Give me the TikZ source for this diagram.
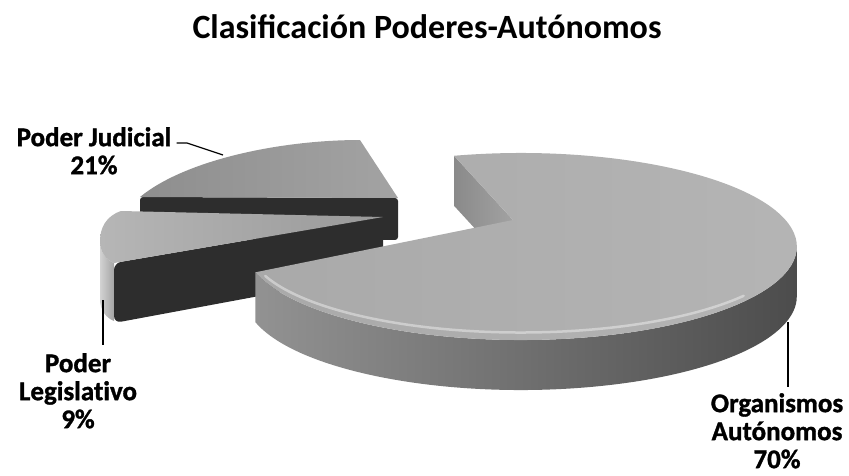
\documentclass[tikz,border=0pt]{standalone}
\usepackage{fontspec}
\setmainfont{Carlito}
\newfontfamily\labelfont[Ligatures=NoCommon,BoldFeatures={FakeBold=1.2}]{Carlito}
\usetikzlibrary{calc}

\definecolor{facedark}{HTML}{2D2D2D}
\definecolor{maintopA}{HTML}{A9A9A9}
\definecolor{maintopB}{HTML}{B5B5B5}
\definecolor{rimA}{HTML}{929292}
\definecolor{rimB}{HTML}{787878}
\definecolor{rimC}{HTML}{4C4C4C}
\definecolor{cutA}{HTML}{8A8A8A}
\definecolor{cutB}{HTML}{A2A2A2}
\definecolor{judtopA}{HTML}{8E8E8E}
\definecolor{judtopB}{HTML}{A3A3A3}
\definecolor{legtopA}{HTML}{B6B6B6}
\definecolor{legtopB}{HTML}{999999}
\definecolor{legrimA}{HTML}{D2D2D2}
\definecolor{legrimB}{HTML}{A4A4A4}

\begin{document}
\begin{tikzpicture}[x=1pt,y=-1pt]

\tikzstyle{charttitle} = [font=\fontsize{34}{40}\selectfont\bfseries,anchor=base,inner sep=0pt]
\tikzstyle{slicelabel} = [font=\labelfont\fontsize{27}{28}\selectfont\bfseries,align=center,inner sep=0pt,anchor=north]
\tikzstyle{leader} = [draw=black,line width=1.2pt]
\tikzstyle{darkside} = [fill=facedark,rounded corners=3pt]
\tikzstyle{rimlight} = [white,opacity=0.4,line width=2.5pt,line cap=round]

\useasboundingbox (0,0) rectangle (849,475);

% title
\node[charttitle] (title) at (427,38) {Clasificación Poderes-Autónomos};

% Poder Judicial slice
\coordinate (japex) at (398,198);
\coordinate (jK) at (140,197);
\coordinate (jT) at (360,140);
\path[darkside] (jK) -- (japex) -- ++(0,42) -- ($(jK)+(0,42)$) -- cycle;
\path[left color=judtopA,right color=judtopB] (japex) -- (jK) .. controls (185,160) and (280,140) .. (jT) -- cycle;

% Poder Legislativo slice
\coordinate (lapex) at (383,217);
\coordinate (lQ) at (121,211);
\coordinate (lM) at (100,241);
\coordinate (lC) at (114,263);
\path[left color=legrimA,right color=legrimB] (lM) .. controls (100,252) and (106,260) .. (lC)
    -- ++(0,58) .. controls (106,318) and (100,310) .. ($(lM)+(0,58)$) -- cycle;
\path[fill=facedark,rounded corners=7pt] (lC) -- (lapex) -- ++(0,56) -- ($(lC)+(0,60)$) -- cycle;
\path[left color=legtopA,right color=legtopB] (lapex) -- (lQ) .. controls (106,216) and (100,228) .. (lM)
    .. controls (100,252) and (106,260) .. (lC) -- cycle;

% Organismos Autonomos slice
\coordinate (mainc) at (520.8,246.5);
\coordinate (mtip) at (513,220);
\coordinate (mA) at ($(mainc)+(-104:276 and 93.5)$);
\coordinate (mR) at ($(mainc)+(0:276 and 93.5)$);
\path[left color=cutA,right color=cutB] (mA) -- ++(0,50) -- ($(mtip)+(0,50)$) -- (mtip) -- cycle;
\path[left color=rimA,middle color=rimB,right color=rimC] (mR)
    arc[start angle=0,end angle=164,x radius=276,y radius=93.5] -- ++(0,50)
    arc[start angle=164,end angle=0,x radius=276,y radius=93.5] -- cycle;
\path[left color=maintopA,right color=maintopB] (mtip) -- (mA)
    arc[start angle=-104,end angle=164,x radius=276,y radius=93.5] -- cycle;
\draw[rimlight] ($(mainc)+(35:272 and 86)$) arc[start angle=35,end angle=160,x radius=272,y radius=86];

% labels
\node[slicelabel] (judlab) at (94,127) {Poder Judicial\\21\%};
\node[slicelabel] (leglab) at (78,353) {Poder\\Legislativo\\9\%};
\node[slicelabel] (orglab) at (777,393) {Organismos\\Autónomos\\70\%};

\coordinate (judbend) at (187,143);
\coordinate (judpt) at (223,155);
\coordinate (legpt) at (103,300);
\coordinate (orgpt) at (788,322);

\draw[leader] (judlab.north east |- judbend) ++(5,0) -- (judbend) -- (judpt);
\draw[leader,shorten >=8pt] (legpt) -- (legpt |- leglab.north);
\draw[leader,shorten >=6pt] (orgpt) -- (orgpt |- orglab.north);

\end{tikzpicture}
\end{document}
